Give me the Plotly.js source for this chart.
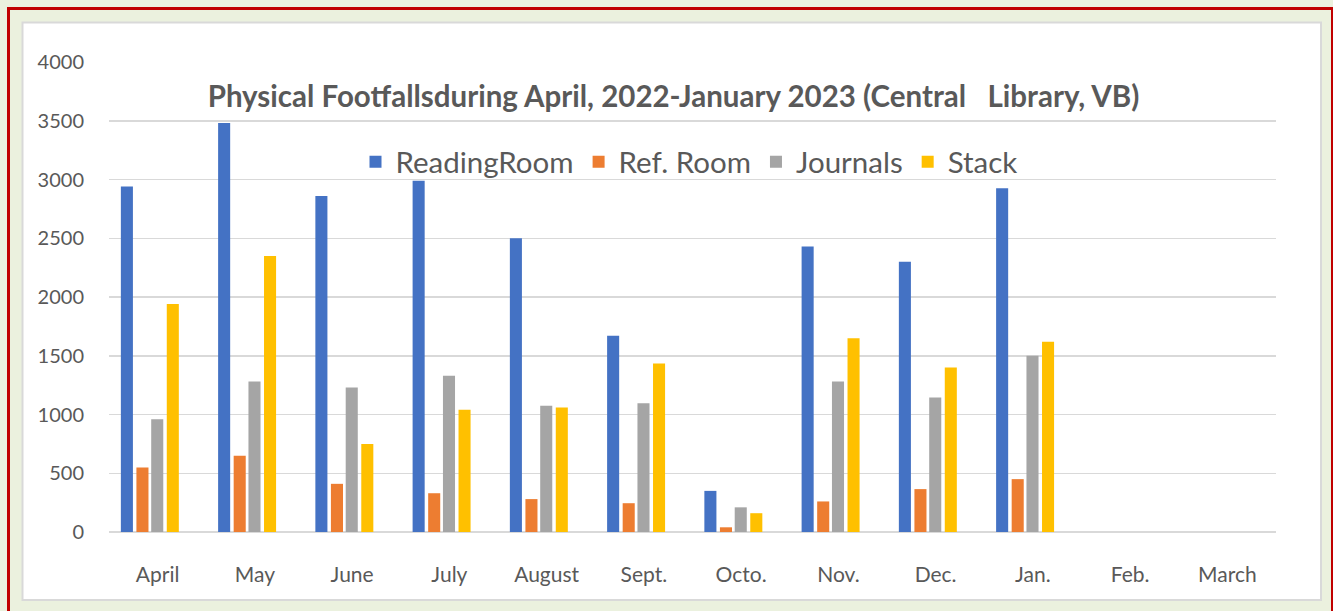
<!DOCTYPE html>
<html>
<head>
<meta charset="utf-8">
<script src="https://cdn.plot.ly/plotly-3.0.1.min.js"></script>
<style>
html,body{margin:0;padding:0;background:#EBF1DE;}
#chart{width:1333px;height:611px;}
</style>
</head>
<body>
<div id="chart"></div>
<script>
const months = ["April","May","June","July","August","Sept.","Octo.","Nov.","Dec.","Jan.","Feb.","March"];
const readingRoom = [2940, 3480, 2860, 2990, 2500, 1670, 350, 2430, 2300, 2925, null, null];
const refRoom     = [550, 650, 410, 330, 280, 245, 40, 260, 365, 450, null, null];
const journals    = [960, 1280, 1230, 1330, 1075, 1095, 210, 1280, 1145, 1500, null, null];
const stack       = [1940, 2350, 750, 1040, 1060, 1435, 160, 1650, 1400, 1620, null, null];
const seriesNames = ["ReadingRoom", "Ref. Room", "Journals", "Stack"];
const yTicks = [0, 500, 1000, 1500, 2000, 2500, 3000, 3500, 4000];

const colors = ["#4472C4", "#ED7D31", "#A5A5A5", "#FFC000"];
const offsets = [-0.378, -0.218, -0.066, 0.094];
const W = 1333, H = 611;
const M = {l: 109, r: 57, t: 62, b: 79};
const pw = W - M.l - M.r, ph = H - M.t - M.b;
const px = x => (x - M.l) / pw;
const py = y => (H - M.b - y) / ph;

const allSeries = [readingRoom, refRoom, journals, stack];
const traces = allSeries.map((vals, i) => ({
  type: "bar",
  name: seriesNames[i],
  x: months,
  y: vals,
  offset: offsets[i],
  width: 0.124,
  marker: {color: colors[i], line: {width: 0}},
  hoverinfo: "x+y+name"
}));

const layout = {
  width: W, height: H,
  margin: M,
  paper_bgcolor: "#EBF1DE",
  plot_bgcolor: "rgba(0,0,0,0)",
  font: {family: "Lato, 'Open Sans', sans-serif", color: "#595959"},
  title: {
    text: "<b>Physical Footfallsduring April, 2022-January 2023 (Central\u00a0\u00a0\u00a0Library, VB)</b>",
    font: {family: "Lato, sans-serif", size: 29.5, color: "#595959"},
    x: 673.5 / W, xref: "container", xanchor: "center",
    y: 1 - 97 / H, yref: "container", yanchor: "middle"
  },
  barmode: "group",
  showlegend: true,
  legend: {
    orientation: "h",
    x: px(689), xanchor: "center",
    y: py(162), yanchor: "middle",
    bgcolor: "rgba(0,0,0,0)",
    font: {family: "Lato, sans-serif", size: 29.5, color: "#595959"},
    itemclick: false
  },
  xaxis: {
    type: "category",
    categoryarray: months,
    range: [-0.5, 11.5],
    showgrid: false,
    zeroline: false,
    showline: false,
    ticks: "",
    tickfont: {size: 21, color: "#595959"},
    ticklabelstandoff: 28,
    fixedrange: true
  },
  yaxis: {
    range: [0, 4000],
    tickvals: yTicks,
    ticktext: yTicks.map(String),
    showgrid: true,
    gridcolor: "#D9D9D9",
    gridwidth: 1.5,
    zeroline: true,
    zerolinecolor: "#D9D9D9",
    zerolinewidth: 1.5,
    showline: false,
    ticks: "",
    tickfont: {size: 20, color: "#595959"},
    ticklabelstandoff: 24,
    fixedrange: true
  },
  shapes: [
    {type: "rect", xref: "paper", yref: "paper", layer: "below",
     x0: px(8.5), x1: px(1332.5), y0: py(8.5), y1: py(625),
     fillcolor: "rgba(0,0,0,0)", line: {color: "#C00000", width: 3}},
    {type: "rect", xref: "paper", yref: "paper", layer: "below",
     x0: px(22.5), x1: px(1321), y0: py(22.5), y1: py(600),
     fillcolor: "#FFFFFF", line: {color: "#D9D9D9", width: 2}}
  ]
};

Plotly.newPlot("chart", traces, layout, {displayModeBar: false, staticPlot: true});
</script>
</body>
</html>
